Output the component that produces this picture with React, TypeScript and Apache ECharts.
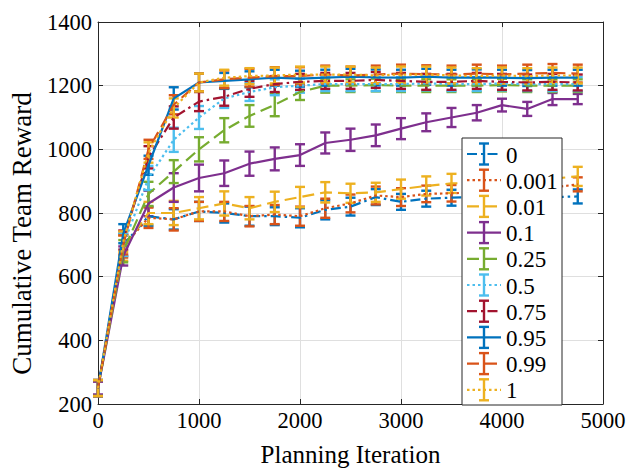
import React, { useEffect, useRef } from 'react';
import * as echarts from 'echarts';

const xValues = [0, 250, 500, 750, 1000, 1250, 1500, 1750, 2000, 2250, 2500, 2750, 3000, 3250, 3500, 3750, 4000, 4250, 4500, 4750];

const seriesNames = ['0', '0.001', '0.01', '0.1', '0.25', '0.5', '0.75', '0.95', '0.99', '1'];

const reward0 = [250, 700, 790, 780, 805, 800, 790, 790, 785, 810, 820, 850, 835, 845, 848, 850, 855, 850, 850, 852];
const reward0001 = [250, 695, 785, 780, 805, 805, 790, 795, 790, 815, 830, 855, 850, 860, 862, 865, 870, 875, 880, 890];
const reward001 = [250, 690, 800, 800, 815, 830, 815, 835, 850, 865, 862, 865, 875, 885, 893, 895, 900, 905, 908, 915];
const reward01 = [250, 665, 830, 880, 910, 925, 955, 970, 982, 1020, 1030, 1044, 1065, 1085, 1100, 1115, 1139, 1127, 1158, 1158];
const reward025 = [250, 680, 860, 930, 1000, 1060, 1105, 1140, 1180, 1200, 1200, 1202, 1200, 1200, 1200, 1200, 1202, 1200, 1200, 1200];
const reward05 = [250, 700, 910, 1030, 1100, 1160, 1180, 1195, 1200, 1205, 1205, 1205, 1205, 1207, 1205, 1205, 1207, 1205, 1205, 1205];
const reward075 = [250, 715, 975, 1100, 1150, 1165, 1190, 1205, 1212, 1215, 1215, 1218, 1215, 1212, 1212, 1215, 1212, 1210, 1212, 1210];
const reward095 = [250, 735, 950, 1160, 1210, 1215, 1220, 1225, 1222, 1225, 1228, 1226, 1225, 1228, 1225, 1226, 1225, 1224, 1225, 1225];
const reward099 = [250, 700, 1000, 1140, 1210, 1220, 1225, 1230, 1230, 1235, 1232, 1235, 1238, 1236, 1235, 1238, 1235, 1238, 1240, 1238];
const reward1 = [250, 710, 990, 1130, 1210, 1225, 1230, 1232, 1235, 1235, 1235, 1232, 1235, 1235, 1232, 1230, 1232, 1230, 1232, 1232];

const err0 = [25, 35, 30, 32, 30, 30, 30, 28, 30, 30, 28, 25, 25, 25, 25, 25, 25, 25, 25, 22];
const err0001 = [25, 35, 32, 35, 30, 30, 32, 30, 30, 30, 28, 28, 28, 26, 26, 25, 25, 25, 25, 22];
const err001 = [25, 40, 35, 38, 35, 38, 35, 32, 32, 32, 30, 30, 30, 30, 30, 28, 28, 28, 28, 30];
const err01 = [20, 30, 40, 45, 42, 40, 38, 36, 34, 33, 35, 34, 33, 28, 30, 24, 20, 22, 19, 16];
const err025 = [25, 35, 38, 36, 38, 38, 34, 36, 25, 22, 20, 20, 20, 20, 20, 20, 20, 20, 20, 20];
const err05 = [25, 35, 38, 38, 36, 30, 28, 25, 22, 22, 22, 22, 22, 22, 22, 22, 22, 22, 22, 22];
const err075 = [25, 30, 35, 35, 30, 28, 25, 25, 25, 25, 25, 25, 25, 25, 25, 25, 25, 25, 25, 25];
const err095 = [25, 30, 30, 35, 28, 25, 25, 25, 25, 25, 25, 25, 25, 25, 25, 25, 25, 25, 25, 25];
const err099 = [25, 30, 30, 30, 28, 28, 28, 28, 28, 28, 28, 28, 28, 28, 28, 28, 28, 28, 28, 28];
const err1 = [25, 32, 32, 30, 28, 25, 25, 25, 25, 25, 25, 25, 25, 25, 25, 25, 25, 25, 25, 25];

const rewards = [reward0, reward0001, reward001, reward01, reward025, reward05, reward075, reward095, reward099, reward1];
const errors = [err0, err0001, err001, err01, err025, err05, err075, err095, err099, err1];

const colors = ['#0072BD', '#D95319', '#EDB120', '#7E2F8E', '#77AC30', '#4DBEEE', '#A2142F', '#0072BD', '#D95319', '#EDB120'];
const DASHDOT = [10, 4, 2.5, 4];
const DASHED = [12, 6];
const DOTTED = [2.5, 3];
const dashes: any[] = [DASHDOT, DOTTED, DASHED, 'solid', DASHED, DOTTED, DASHDOT, 'solid', DASHED, DOTTED];

const FONT = 'Liberation Serif';
const AXIS_COLOR = '#262626';

export default function App() {
  const ref = useRef<HTMLDivElement>(null);
  useEffect(() => {
    if (!ref.current) return;
    const chart = echarts.init(ref.current, undefined, { renderer: 'svg' });
    const series: any[] = [];
    seriesNames.forEach((name, i) => {
      const color = colors[i];
      series.push({
        type: 'line',
        name,
        data: xValues.map((x, j) => [x, rewards[i][j]]),
        showSymbol: false,
        symbol: 'none',
        lineStyle: { color, width: 2.2, type: dashes[i] },
        itemStyle: { color },
        xAxisIndex: 0,
        yAxisIndex: 0,
        silent: true,
      });
      series.push({
        type: 'custom',
        name: name + ' err',
        data: xValues.map((x, j) => [x, rewards[i][j], errors[i][j]]),
        encode: { x: 0, y: 1 },
        xAxisIndex: 0,
        yAxisIndex: 0,
        silent: true,
        renderItem: (params: any, api: any) => {
          const x = api.value(0);
          const y = api.value(1);
          const e = api.value(2);
          const top = api.coord([x, y + e]);
          const bot = api.coord([x, y - e]);
          const hw = 5;
          const style = { stroke: color, lineWidth: 2.4, fill: null };
          return {
            type: 'group',
            children: [
              { type: 'line', shape: { x1: top[0], y1: top[1], x2: bot[0], y2: bot[1] }, style },
              { type: 'line', shape: { x1: top[0] - hw, y1: top[1], x2: top[0] + hw, y2: top[1] }, style },
              { type: 'line', shape: { x1: bot[0] - hw, y1: bot[1], x2: bot[0] + hw, y2: bot[1] }, style },
            ],
          };
        },
      });
    });

    // Legend drawn with graphic elements
    const lgX = 462, lgY = 138, lgW = 100, lgH = 267;
    const rowH = 26.2, row0 = 154;
    const Z = 100;
    const legendChildren: any[] = [
      { type: 'rect', z: Z, shape: { x: lgX, y: lgY, width: lgW, height: lgH }, style: { fill: '#fff', stroke: AXIS_COLOR, lineWidth: 1 } },
    ];
    seriesNames.forEach((name, i) => {
      const cy = row0 + i * rowH;
      const color = colors[i];
      const dash = dashes[i] === 'solid' ? null : dashes[i];
      legendChildren.push({ type: 'line', z: Z + 1, shape: { x1: 467, y1: cy, x2: 501, y2: cy }, style: { stroke: color, lineWidth: 2.2, lineDash: dash } });
      const cx = 484, hh = 10.5, hw = 5;
      const st = { stroke: color, lineWidth: 2.4 };
      legendChildren.push({ type: 'line', z: Z + 2, shape: { x1: cx, y1: cy - hh, x2: cx, y2: cy + hh }, style: st });
      legendChildren.push({ type: 'line', z: Z + 2, shape: { x1: cx - hw, y1: cy - hh, x2: cx + hw, y2: cy - hh }, style: st });
      legendChildren.push({ type: 'line', z: Z + 2, shape: { x1: cx - hw, y1: cy + hh, x2: cx + hw, y2: cy + hh }, style: st });
      legendChildren.push({
        type: 'text', z: Z + 2, x: 506, y: cy + 1,
        style: { text: name, fill: '#000', fontFamily: FONT, fontSize: 23, verticalAlign: 'middle', align: 'left' },
      });
    });

    const baseAxis = {
      axisLine: { show: true, onZero: false, lineStyle: { color: AXIS_COLOR, width: 1 } },
      axisTick: { show: true, inside: true, length: 5, lineStyle: { color: AXIS_COLOR, width: 1 } },
    };
    const fmt = (v: number) => String(v);

    chart.setOption({
      animation: false,
      backgroundColor: '#fff',
      grid: { left: 98, right: 27, top: 22, bottom: 59, containLabel: false },
      xAxis: [
        {
          ...baseAxis,
          type: 'value', min: 0, max: 5000, interval: 1000, position: 'bottom',
          name: 'Planning Iteration', nameLocation: 'middle', nameGap: 38,
          nameTextStyle: { fontFamily: FONT, fontSize: 25, color: '#000' },
          axisLabel: { fontFamily: FONT, fontSize: 22.5, color: '#000', margin: 5, formatter: fmt },
          splitLine: { show: true, lineStyle: { color: '#dfdfdf', width: 1 } },
        },
        {
          ...baseAxis,
          type: 'value', min: 0, max: 5000, interval: 1000, position: 'top',
          axisLabel: { show: false }, splitLine: { show: false },
        },
      ],
      yAxis: [
        {
          ...baseAxis,
          type: 'value', min: 200, max: 1400, interval: 200, position: 'left',
          name: 'Cumulative Team Reward', nameLocation: 'middle', nameGap: 63,
          nameTextStyle: { fontFamily: FONT, fontSize: 27, color: '#000', padding: [0, 41, 0, 0] },
          axisLabel: { fontFamily: FONT, fontSize: 22.5, color: '#000', margin: 6, formatter: fmt },
          splitLine: { show: true, lineStyle: { color: '#dfdfdf', width: 1 } },
        },
        {
          ...baseAxis,
          type: 'value', min: 200, max: 1400, interval: 200, position: 'right',
          axisLabel: { show: false }, splitLine: { show: false },
        },
      ],
      series,
      graphic: legendChildren,
    });
    return () => chart.dispose();
  }, []);
  return <div ref={ref} style={{ width: 630, height: 472, position: 'absolute', left: 0, top: 0 }} />;
}
